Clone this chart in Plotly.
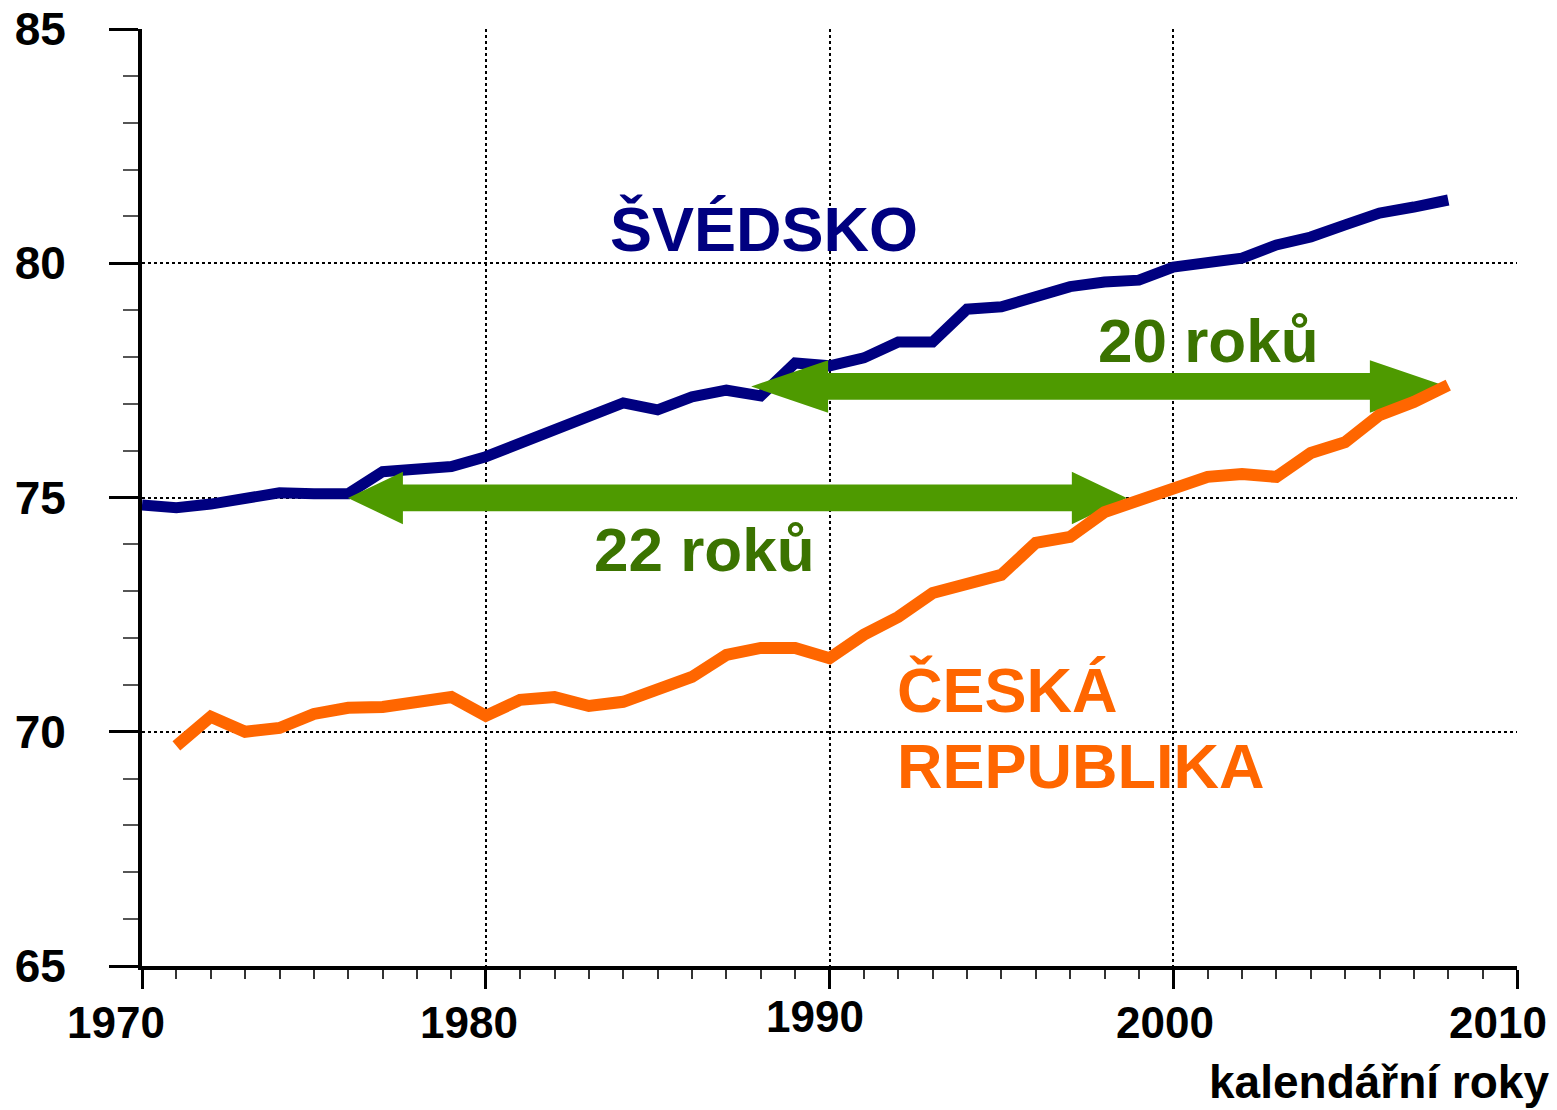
import plotly.graph_objects as go

# ---------------- data ----------------
years_se = list(range(1970, 2009))
life_se = [74.84, 74.78, 74.86, 74.99, 75.10, 75.08, 75.08, 75.55, 75.63, 75.66,
           75.87, 76.16, 76.48, 76.76, 77.02, 76.87, 77.15, 77.29, 77.17, 77.87,
           77.81, 77.98, 78.32, 78.32, 79.02, 79.07, 79.28, 79.50, 79.60, 79.64,
           79.92, 80.03, 80.11, 80.39, 80.56, 80.82, 81.07, 81.20, 81.35]

years_cz = list(range(1971, 2009))
life_cz = [69.70, 70.32, 70.00, 70.08, 70.38, 70.51, 70.53, 70.63, 70.74,
           70.34, 70.68, 70.74, 70.55, 70.64, 70.90, 71.17, 71.64, 71.79, 71.79,
           71.57, 72.07, 72.45, 72.96, 73.18, 73.35, 74.03, 74.16, 74.69, 74.93,
           75.20, 75.44, 75.50, 75.44, 75.95, 76.18, 76.76, 77.04, 77.40]

# arrows: (left tip year, right tip year, level, head length in years)
arrow_x0 = [1987.72, 1975.99]
arrow_x1 = [2007.96, 1998.65]
arrow_y = [77.37, 74.99]
arrow_head = [2.24, 1.60]
arrow_labels = ["20 roků", "22 roků"]
arrow_label_x = [1997.75, 1983.10]
arrow_label_y = [78.36, 73.88]

x_ticks = [1970, 1980, 1990, 2000, 2010]
x_tick_labels = ["1970", "1980", "1990", "2000", "2010"]
x_label_shift = [-26, -17, -15, -8, -19]
x_label_drop = [0, 0, -6, 0, 0]
y_ticks = [65, 70, 75, 80, 85]

NAVY = "#000080"
ORANGE = "#FF6600"
GREEN = "#4E9A00"
DGREEN = "#3B7300"
FONT = "Liberation Sans, Arial, sans-serif"

HEAD_H = 0.56
SHAFT_H = 0.285

fig = go.Figure()

fig.add_trace(go.Scatter(x=years_se, y=life_se, mode="lines",
                         line=dict(color=NAVY, width=11), showlegend=False))

for x0, x1, yv, h in zip(arrow_x0, arrow_x1, arrow_y, arrow_head):
    px = [x0, x0 + h, x0 + h, x1 - h, x1 - h, x1, x1 - h, x1 - h, x0 + h, x0 + h, x0]
    py = [yv, yv + HEAD_H, yv + SHAFT_H, yv + SHAFT_H, yv + HEAD_H, yv,
          yv - HEAD_H, yv - SHAFT_H, yv - SHAFT_H, yv - HEAD_H, yv]
    fig.add_trace(go.Scatter(x=px, y=py, mode="lines", fill="toself",
                             fillcolor=GREEN, line=dict(width=0, color=GREEN),
                             showlegend=False, hoverinfo="skip"))

fig.add_trace(go.Scatter(x=years_cz, y=life_cz, mode="lines",
                         line=dict(color=ORANGE, width=12), showlegend=False))

ann = []
ann.append(dict(x=1983.55, y=80.73, text="ŠVÉDSKO", xanchor="left", yanchor="middle",
                showarrow=False, font=dict(family=FONT, size=63, color=NAVY, weight="bold")))
ann.append(dict(x=1991.90, y=70.89, text="ČESKÁ", xanchor="left", yanchor="middle",
                showarrow=False, font=dict(family=FONT, size=63, color=ORANGE, weight="bold")))
ann.append(dict(x=1991.90, y=69.27, text="REPUBLIKA", xanchor="left", yanchor="middle",
                showarrow=False, font=dict(family=FONT, size=63, color=ORANGE, weight="bold")))
for t, lx, ly in zip(arrow_labels, arrow_label_x, arrow_label_y):
    ann.append(dict(x=lx, y=ly, text=t, xanchor="left", yanchor="middle", showarrow=False,
                    font=dict(family=FONT, size=62, color=DGREEN, weight="bold")))
for xv, lab, sh, dr in zip(x_ticks, x_tick_labels, x_label_shift, x_label_drop):
    ann.append(dict(x=xv, xref="x", y=0, yref="paper", text=lab, xanchor="center",
                    yanchor="top", xshift=sh, yshift=-30 - dr, showarrow=False,
                    font=dict(family=FONT, size=44, color="black", weight="bold")))
ann.append(dict(x=1.0, xref="paper", y=0, yref="paper", text="kalendářní roky",
                xanchor="right", yanchor="bottom", xshift=34, yshift=-144, showarrow=False,
                font=dict(family=FONT, size=46, color="black", weight="bold")))

fig.update_layout(
    width=1557, height=1110,
    margin=dict(l=142, r=40, t=29, b=144, autoexpand=False),
    paper_bgcolor="white", plot_bgcolor="white",
    annotations=ann,
    showlegend=False,
)

fig.update_xaxes(
    range=[1970, 2010], tickvals=x_ticks, showticklabels=False, automargin=False,
    showline=True, linecolor="black", linewidth=4,
    ticks="outside", ticklen=19, tickwidth=3, tickcolor="black",
    showgrid=True, gridcolor="black", gridwidth=2, griddash="dot",
    zeroline=False,
    minor=dict(dtick=1, ticks="outside", ticklen=9, tickwidth=1.5, tickcolor="#333",
               showgrid=False),
)
fig.update_yaxes(
    range=[65, 85], tickvals=y_ticks, ticktext=[str(v) for v in y_ticks],
    automargin=False,
    showline=True, linecolor="black", linewidth=4,
    ticks="outside", ticklen=29, tickwidth=3, tickcolor="black",
    showgrid=True, gridcolor="black", gridwidth=2, griddash="dot",
    zeroline=False, ticklabelstandoff=34,
    tickfont=dict(family=FONT, size=46, color="black", weight="bold"),
    minor=dict(dtick=1, ticks="outside", ticklen=15, tickwidth=1.5, tickcolor="#555",
               showgrid=False),
)

fig.write_html("out.html", config={"displayModeBar": False},
               post_script="document.body.style.margin='0';document.body.style.overflow='hidden';")
